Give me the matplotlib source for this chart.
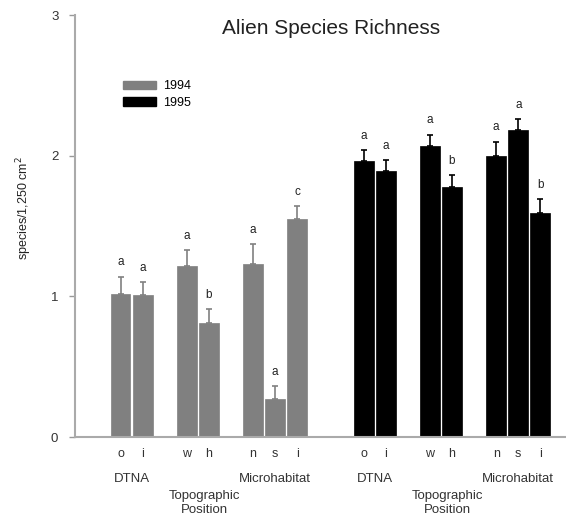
import numpy as np
import matplotlib
matplotlib.use("Agg")
import matplotlib.pyplot as plt
from matplotlib.patches import Patch
import matplotlib.transforms as mtransforms

plt.rcParams['font.family'] = ['Liberation Sans', 'DejaVu Sans']

# bar slots: o i | w h | n s i   (1994 then 1995)
pos_1994 = [0, 1, 3, 4, 6, 7, 8]
pos_1995 = [11, 12, 14, 15, 17, 18, 19]
cats = ['o', 'i', 'w', 'h', 'n', 's', 'i']
groups = ['DTNA', 'Topographic\nPosition', 'Microhabitat']

vals_1994 = [1.02, 1.01, 1.22, 0.81, 1.23, 0.27, 1.55]
err_1994 = [0.12, 0.09, 0.11, 0.10, 0.14, 0.09, 0.09]
sig_1994 = ['a', 'a', 'a', 'b', 'a', 'a', 'c']

vals_1995 = [1.96, 1.89, 2.07, 1.78, 2.00, 2.18, 1.59]
err_1995 = [0.08, 0.08, 0.08, 0.08, 0.10, 0.08, 0.10]
sig_1995 = ['a', 'a', 'a', 'b', 'a', 'a', 'b']

grey = '#808080'
black = '#000000'

fig = plt.figure(figsize=(5.66, 5.21), dpi=100)
ax = fig.add_axes([0.1325, 0.161, 0.8675, 0.81])

def draw(pos, vals, errs, sigs, col):
    ax.bar(pos, vals, width=0.9, color=col, edgecolor=col, linewidth=0.5, zorder=2)
    ax.errorbar(pos, vals, yerr=[np.zeros(len(errs)), errs], fmt='none',
                ecolor=col, elinewidth=1.2, capsize=2, capthick=1.2, zorder=1)
    for p, v, e, s in zip(pos, vals, errs, sigs):
        ax.text(p, v + e + 0.06, s, ha='center', va='bottom', fontsize=8.5, color='#222222')

draw(pos_1994, vals_1994, err_1994, sig_1994, grey)
draw(pos_1995, vals_1995, err_1995, sig_1995, black)

ax.set_xlim(-2.06, 20.16)
ax.set_ylim(0, 3)
ax.set_yticks([0, 1, 2, 3])
ax.set_xticks([])
ax.tick_params(axis='y', direction='out', length=4, width=1, color='#999999',
               labelsize=9.5, labelcolor='#333333', pad=8)
for side in ['top', 'right']:
    ax.spines[side].set_visible(False)
for side in ['left', 'bottom']:
    ax.spines[side].set_color('#aaaaaa')
    ax.spines[side].set_linewidth(1.5)

# category letters and group names below the axis
trans = mtransforms.blended_transform_factory(ax.transData, fig.transFigure)
for pos in (pos_1994, pos_1995):
    for p, c in zip(pos, cats):
        ax.text(p, 1 - 454 / 521, c, transform=trans, ha='center', va='center',
                fontsize=9, color='#333333')
    centers = [np.mean(pos[0:2]), np.mean(pos[2:4]), np.mean(pos[4:7])]
    ax.text(centers[0], 1 - 479 / 521, groups[0], transform=trans, ha='center',
            va='center', fontsize=9.5, color='#333333')
    ax.text(centers[1] + 0.3, 1 - 503 / 521, groups[1], transform=trans, ha='center',
            va='center', fontsize=9.5, color='#333333', linespacing=1.15)
    ax.text(centers[2], 1 - 479 / 521, groups[2], transform=trans, ha='center',
            va='center', fontsize=9.5, color='#333333')

fig.text(331 / 566, 1 - 28 / 521, 'Alien Species Richness', ha='center', va='center',
         fontsize=15, color='#222222')
fig.text(24 / 566, 1 - 208 / 521, 'species/1,250 cm$^2$', rotation=90, ha='center',
         va='center', fontsize=9, color='#222222')

handles = [Patch(color=grey, label='1994'), Patch(color=black, label='1995')]
fig.legend(handles=handles, loc='upper left', bbox_to_anchor=(112 / 566, 1 - 69 / 521),
           frameon=False, fontsize=9, handlelength=2.6, handleheight=0.7,
           handletextpad=0.6, labelspacing=0.35)

fig.savefig('out.png', dpi=100)
